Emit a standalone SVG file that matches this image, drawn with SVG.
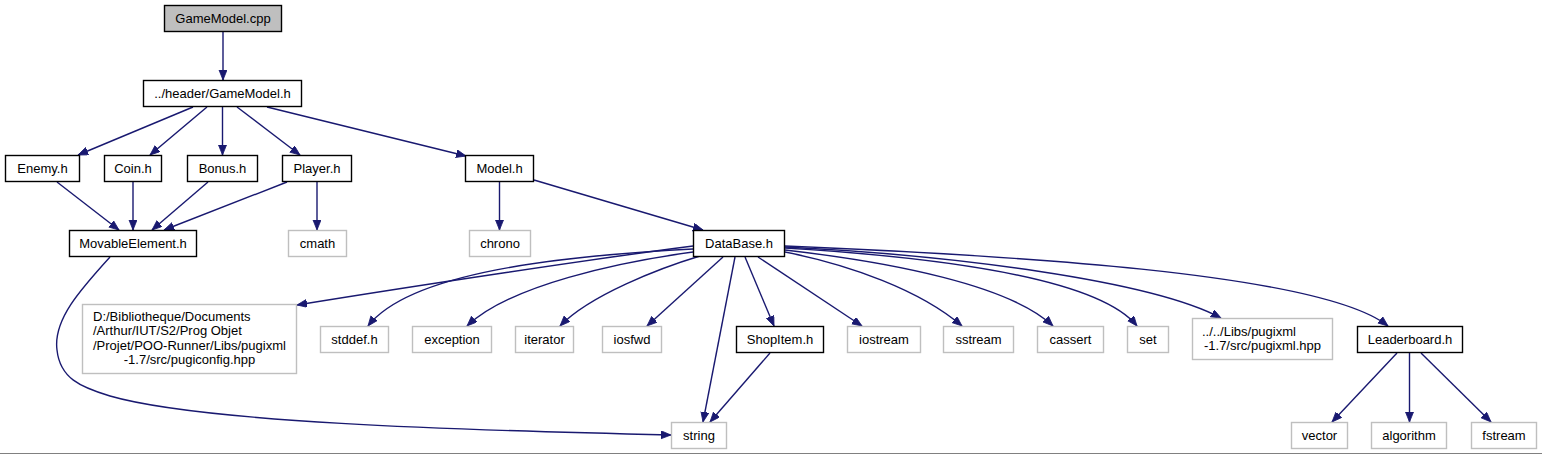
<svg xmlns="http://www.w3.org/2000/svg" width="1542" height="455" viewBox="0 0 1542 455">
<style>
  .n rect { fill: #ffffff; stroke: #000000; stroke-width: 1.4; }
  .g rect { fill: #ffffff; stroke: #bfbfbf; stroke-width: 1.4; }
  .root rect { fill: #bfbfbf; stroke: #000000; stroke-width: 1.4; }
  text { font-family: "Liberation Sans", Arial, sans-serif; font-size: 13px; fill: #000000; }
  .c { text-anchor: middle; }
  .edges path { fill: none; stroke: #191970; stroke-width: 1.4; marker-end: url(#arr); }
</style>
<defs>
  <marker id="arr" markerUnits="userSpaceOnUse" markerWidth="11" markerHeight="9" refX="10" refY="4" orient="auto">
    <path d="M0,0 L10,4 L0,8 z" fill="#191970" stroke="#191970" stroke-width="0.8"/>
  </marker>
</defs>
<rect width="1542" height="455" fill="#ffffff"/>
<g class="edges">
  <path d="M223,32 L223,80"/>
  <path d="M193,107 L78,155"/>
  <path d="M207,107 L150,155"/>
  <path d="M222.5,107 L222.5,155"/>
  <path d="M237,107 L300,155"/>
  <path d="M267,107 L466,156"/>
  <path d="M57,182 L119,230"/>
  <path d="M133,182 L133,230"/>
  <path d="M208,182 L152,230"/>
  <path d="M287,182 L164,230"/>
  <path d="M317,182 L317,230"/>
  <path d="M499.5,182 L499.5,230"/>
  <path d="M534,180 L703,230"/>
  <path d="M110,257 C80,290 53,320 57,350 C60,378 80,387 110,396 C200,422 450,430 671,435"/>
  <path d="M693,246 C600,258 420,285 297,305"/>
  <path d="M693,249 C560,256 410,272 368,326"/>
  <path d="M693,252 C620,262 510,285 467,326"/>
  <path d="M700,256 C660,268 590,295 560,326"/>
  <path d="M723,257 L647,326"/>
  <path d="M735,257 L703,422"/>
  <path d="M745,257 L774,326"/>
  <path d="M770,353 L710,422"/>
  <path d="M758,257 L862,326"/>
  <path d="M785,252 C850,265 920,290 962,326"/>
  <path d="M785,250 C890,262 1010,285 1053,326"/>
  <path d="M785,248 C950,258 1100,280 1137,326"/>
  <path d="M785,247 C950,255 1150,280 1221,318"/>
  <path d="M785,246 C1000,255 1320,272 1388,326"/>
  <path d="M1397,353 L1332,422"/>
  <path d="M1409.5,353 L1409.5,422"/>
  <path d="M1421,353 L1491,422"/>
</g>
<g id="GameModel_cpp" class="root"><rect x="164.5" y="5.5" width="117" height="26"/><text class="c" x="223" y="23">GameModel.cpp</text></g>
<g id="GameModel_h" class="n"><rect x="143.5" y="80.5" width="158" height="26"/><text class="c" x="222.5" y="98">../header/GameModel.h</text></g>
<g id="Enemy_h" class="n"><rect x="5.5" y="155.5" width="74" height="26"/><text class="c" x="42.5" y="173">Enemy.h</text></g>
<g id="Coin_h" class="n"><rect x="104.5" y="155.5" width="57" height="26"/><text class="c" x="133" y="173">Coin.h</text></g>
<g id="Bonus_h" class="n"><rect x="187.5" y="155.5" width="70" height="26"/><text class="c" x="222.5" y="173">Bonus.h</text></g>
<g id="Player_h" class="n"><rect x="282.5" y="155.5" width="69" height="26"/><text class="c" x="317" y="173">Player.h</text></g>
<g id="Model_h" class="n"><rect x="465.5" y="155.5" width="68" height="26"/><text class="c" x="499.5" y="173">Model.h</text></g>
<g id="MovableElement_h" class="n"><rect x="69.5" y="230.5" width="127" height="26"/><text class="c" x="133" y="248">MovableElement.h</text></g>
<g id="cmath" class="g"><rect x="288.5" y="230.5" width="58" height="26"/><text class="c" x="317.5" y="248">cmath</text></g>
<g id="chrono" class="g"><rect x="469.5" y="230.5" width="61" height="26"/><text class="c" x="500" y="248">chrono</text></g>
<g id="DataBase_h" class="n"><rect x="693.5" y="230.5" width="91" height="26"/><text class="c" x="739" y="248">DataBase.h</text></g>
<g id="pugiconfig" class="g"><rect x="82.5" y="304.5" width="214" height="69"/>
  <text x="93" y="320.5">D:/Bibliotheque/Documents</text>
  <text x="93" y="335">/Arthur/IUT/S2/Prog Objet</text>
  <text x="93" y="349.5">/Projet/POO-Runner/Libs/pugixml</text>
  <text class="c" x="189.5" y="364">-1.7/src/pugiconfig.hpp</text></g>
<g id="stddef_h" class="g"><rect x="320.5" y="326.5" width="68" height="26"/><text class="c" x="354.5" y="344">stddef.h</text></g>
<g id="exception" class="g"><rect x="412.5" y="326.5" width="79" height="26"/><text class="c" x="452" y="344">exception</text></g>
<g id="iterator" class="g"><rect x="515.5" y="326.5" width="58" height="26"/><text class="c" x="544.5" y="344">iterator</text></g>
<g id="iosfwd" class="g"><rect x="602.5" y="326.5" width="59" height="26"/><text class="c" x="632" y="344">iosfwd</text></g>
<g id="ShopItem_h" class="n"><rect x="736.5" y="326.5" width="87" height="26"/><text class="c" x="780" y="344">ShopItem.h</text></g>
<g id="iostream" class="g"><rect x="847.5" y="326.5" width="73" height="26"/><text class="c" x="884" y="344">iostream</text></g>
<g id="sstream" class="g"><rect x="943.5" y="326.5" width="70" height="26"/><text class="c" x="978.5" y="344">sstream</text></g>
<g id="cassert" class="g"><rect x="1037.5" y="326.5" width="66" height="26"/><text class="c" x="1070.5" y="344">cassert</text></g>
<g id="set" class="g"><rect x="1127.5" y="326.5" width="41" height="26"/><text class="c" x="1148" y="344">set</text></g>
<g id="pugixml_hpp" class="g"><rect x="1192.5" y="318.5" width="140" height="41"/>
  <text x="1202" y="335.5">../../Libs/pugixml</text>
  <text class="c" x="1262.5" y="350">-1.7/src/pugixml.hpp</text></g>
<g id="Leaderboard_h" class="n"><rect x="1357.5" y="326.5" width="105" height="26"/><text class="c" x="1410" y="344">Leaderboard.h</text></g>
<g id="string" class="g"><rect x="671.5" y="422.5" width="55" height="26"/><text class="c" x="699" y="440">string</text></g>
<g id="vector" class="g"><rect x="1291.5" y="422.5" width="56" height="26"/><text class="c" x="1319.5" y="440">vector</text></g>
<g id="algorithm" class="g"><rect x="1371.5" y="422.5" width="75" height="26"/><text class="c" x="1409" y="440">algorithm</text></g>
<g id="fstream" class="g"><rect x="1471.5" y="422.5" width="65" height="26"/><text class="c" x="1504" y="440">fstream</text></g>
<line x1="0" y1="453.5" x2="1542" y2="453.5" stroke="#808080" stroke-width="1"/>
</svg>
